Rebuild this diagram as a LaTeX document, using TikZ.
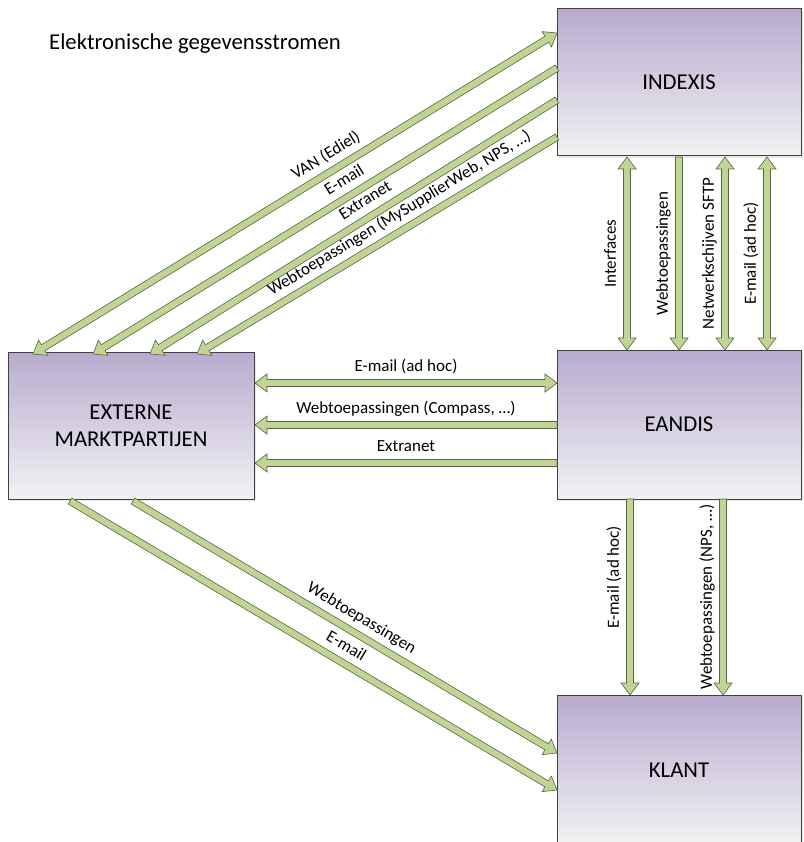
\documentclass[tikz,border=0pt]{standalone}
\usepackage{fontspec}
\setmainfont{Carlito}
\usetikzlibrary{calc,shadows}
\definecolor{boxtop}{RGB}{184,171,207}
\definecolor{boxbot}{RGB}{242,242,243}
\definecolor{boxline}{RGB}{64,64,64}
\definecolor{arrfill}{RGB}{192,212,150}
\definecolor{arrline}{RGB}{90,100,62}
\def\arrSW{3.5pt}
\def\arrHW{9pt}
\def\arrHL{12pt}
\newcommand\fatone[2]{%
 \coordinate (fh) at ($(#2)!\arrHL!(#1)$);
 \draw[fat] ($(#1)!\arrSW!90:(#2)$) -- ($(fh)!\arrSW!90:(#2)$) -- ($(fh)!\arrHW!90:(#2)$) -- (#2) -- ($(fh)!\arrHW!-90:(#2)$) -- ($(fh)!\arrSW!-90:(#2)$) -- ($(#1)!\arrSW!-90:(#2)$) -- cycle;}
\newcommand\fattwo[2]{%
 \coordinate (fh) at ($(#2)!\arrHL!(#1)$);
 \coordinate (fg) at ($(#1)!\arrHL!(#2)$);
 \draw[fat] ($(fg)!\arrSW!90:(#2)$) -- ($(fh)!\arrSW!90:(#2)$) -- ($(fh)!\arrHW!90:(#2)$) -- (#2) -- ($(fh)!\arrHW!-90:(#2)$) -- ($(fh)!\arrSW!-90:(#2)$) -- ($(fg)!\arrSW!-90:(#2)$) -- ($(fg)!\arrHW!-90:(#2)$) -- (#1) -- ($(fg)!\arrHW!90:(#2)$) -- cycle;}
\begin{document}
\begin{tikzpicture}[x=1pt,y=-1pt,
  box/.style={draw=boxline, line width=1pt, top color=boxtop, bottom color=boxbot,
    font=\fontsize{22.7}{27}\selectfont, align=center, inner sep=0pt,
    drop shadow={opacity=0.18, shadow xshift=2pt, shadow yshift=-2pt}},
  fat/.style={fill=arrfill, draw=arrline, line width=0.6pt, line join=miter},
  lbl/.style={font=\fontsize{17}{20}\selectfont, inner sep=0pt, text height=12pt, text depth=4pt, sloped, above=7pt}]
\useasboundingbox (0,0) rectangle (803,842);
\clip (0,0) rectangle (803,842);
\fill[white] (0,0) rectangle (803,842);

\node[anchor=base west, font=\fontsize{22.7}{27}\selectfont, inner sep=0pt] (title) at (49,50) {Elektronische gegevensstromen};

\node[box, minimum width=244pt, minimum height=147pt] (indexis) at (679,82.5) {INDEXIS};
\node[box, minimum width=244pt, minimum height=149pt] (eandis) at (679,424.5) {EANDIS};
\node[box, minimum width=246pt, minimum height=147pt] (ext) at (131,425.5) {EXTERNE\\MARKTPARTIJEN};
\node[box, minimum width=244pt, minimum height=150pt] (klant) at (679,770) {KLANT};

% upper diagonals
\coordinate (vanE) at (33,354);  \coordinate (vanI) at (557,33);
\coordinate (emE) at (93,354);   \coordinate (emI) at (557,68);
\coordinate (exE) at (150,354);  \coordinate (exI) at (557,100);
\coordinate (wbE) at (197,354);  \coordinate (wbI) at (557,137);
\fattwo{vanE}{vanI}
\fatone{emI}{emE}
\fatone{exI}{exE}
\fatone{wbI}{wbE}
\path (vanE) -- (vanI) node[lbl, pos=0.575] {VAN (Ediel)};
\path (emE) -- (emI) node[lbl, pos=0.56] {E-mail};
\path (exE) -- (exI) node[lbl, pos=0.55] {Extranet};
\path (wbE) -- (wbI) node[lbl, pos=0.585] {Webtoepassingen (MySupplierWeb, NPS, …)};

% horizontals
\coordinate (h1E) at (255,383); \coordinate (h1D) at (557,383);
\coordinate (h2E) at (255,425); \coordinate (h2D) at (557,425);
\coordinate (h3E) at (255,463); \coordinate (h3D) at (557,463);
\fattwo{h1E}{h1D}
\fatone{h2D}{h2E}
\fatone{h3D}{h3E}
\path (h1E) -- (h1D) node[lbl, midway] {E-mail (ad hoc)};
\path (h2E) -- (h2D) node[lbl, midway] {Webtoepassingen (Compass, …)};
\path (h3E) -- (h3D) node[lbl, midway] {Extranet};

% upper verticals
\coordinate (v1I) at (627,157); \coordinate (v1D) at (627,350);
\coordinate (v2I) at (679,157); \coordinate (v2D) at (679,350);
\coordinate (v3I) at (725,157); \coordinate (v3D) at (725,350);
\coordinate (v4I) at (767,157); \coordinate (v4D) at (767,350);
\fattwo{v1D}{v1I}
\fatone{v2I}{v2D}
\fattwo{v3D}{v3I}
\fattwo{v4D}{v4I}
\path (v1D) -- (v1I) node[lbl, midway] {Interfaces};
\path (v2D) -- (v2I) node[lbl, midway] {Webtoepassingen};
\path (v3D) -- (v3I) node[lbl, midway] {Netwerkschijven SFTP};
\path (v4D) -- (v4I) node[lbl, midway] {E-mail (ad hoc)};

% lower verticals
\coordinate (k1D) at (630,499); \coordinate (k1K) at (630,695);
\coordinate (k2D) at (723,499); \coordinate (k2K) at (723,695);
\fatone{k1D}{k1K}
\fatone{k2D}{k2K}
\path (k1K) -- (k1D) node[lbl, pos=0.6] {E-mail (ad hoc)};
\path (k2K) -- (k2D) node[lbl, pos=0.5] {Webtoepassingen (NPS, …)};

% lower diagonals
\coordinate (l1E) at (133,501); \coordinate (l1K) at (557,753);
\coordinate (l2E) at (70,501);  \coordinate (l2K) at (557,790);
\fatone{l1E}{l1K}
\fatone{l2E}{l2K}
\path (l1E) -- (l1K) node[lbl, pos=0.52] {Webtoepassingen};
\path (l2E) -- (l2K) node[lbl, pos=0.55] {E-mail};
\end{tikzpicture}
\end{document}
